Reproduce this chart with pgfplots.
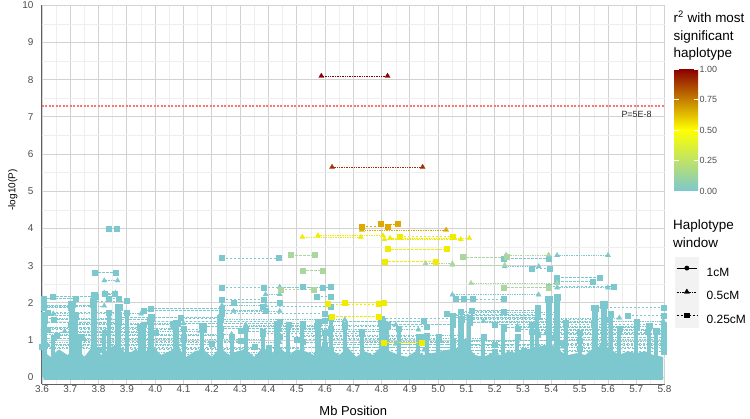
\documentclass[border=0pt]{standalone}
\usepackage{pgfplots}
\pgfplotsset{compat=1.18}
\usepackage{fontspec}
\setmainfont{Liberation Sans}
\definecolor{teal1}{RGB}{125,199,206}
\definecolor{grn}{RGB}{172,214,160}
\definecolor{ylw}{RGB}{240,236,0}
\definecolor{org}{RGB}{222,168,0}
\definecolor{redA}{RGB}{139,0,0}
\definecolor{redB}{RGB}{165,45,5}
\definecolor{gmaj}{RGB}{210,210,210}
\definecolor{gmin}{RGB}{238,238,238}
\definecolor{axc}{RGB}{95,95,95}
\definecolor{tickc}{RGB}{77,77,77}
\definecolor{keybg}{RGB}{242,242,242}
\pgfplotsset{
 sq/.style={forget plot, line width=0.5bp, dash pattern=on 2.5bp off 1.5bp, mark=square*, mark size=2.5bp, mark options={solid, line width=0.2bp}, unbounded coords=jump},
 tri/.style={forget plot, line width=0.5bp, dash pattern=on 0.8bp off 0.9bp, mark=triangle*, mark size=3bp, mark options={solid, line width=0.2bp}, unbounded coords=jump},
}
\begin{document}
\begin{tikzpicture}
\path[use as bounding box] (-42bp,-35bp) rectangle (708bp,384bp);
\begin{axis}[
 scale only axis, width=622.6bp, height=378.7bp,
 xmin=3.6, xmax=5.8, ymin=-0.18, ymax=10,
 xtick={3.6,3.7,3.8,3.9,4.0,4.1,4.2,4.3,4.4,4.5,4.6,4.7,4.8,4.9,5.0,5.1,5.2,5.3,5.4,5.5,5.6,5.7,5.8},
 xticklabels={3.6,3.7,3.8,3.9,4.0,4.1,4.2,4.3,4.4,4.5,4.6,4.7,4.8,4.9,5.0,5.1,5.2,5.3,5.4,5.5,5.6,5.7,5.8},
 ytick={0,1,2,3,4,5,6,7,8,9,10},
 yticklabels={0,1,2,3,4,5,6,7,8,9,10},
 minor x tick num=1, minor y tick num=1,
 grid=both, major grid style={gmaj, line width=0.9bp}, minor grid style={gmin, line width=0.5bp},
 axis x line*=bottom, axis y line*=left,
 axis line style={axc, line width=1bp, -},
 tick style={draw=none},
 xticklabel style={font=\fontsize{10}{12}\selectfont, text=tickc, inner sep=1.5bp},
 yticklabel style={font=\fontsize{10}{12}\selectfont, text=tickc, xshift=-5bp},
 xlabel={Mb Position},
 xlabel style={font=\fontsize{13}{15}\selectfont, at={(axis description cs:0.5,-0.0837)}, anchor=base},
 ylabel={-log10(P)},
 ylabel style={font=\fontsize{10}{12}\selectfont, at={(axis description cs:-0.047,0.512)}, anchor=center},
 colormap={r2}{rgb255=(125,199,206) rgb255=(255,255,0) rgb255=(139,0,0)},
 point meta min=0, point meta max=1,
 colorbar right,
 colorbar/width=24bp,
 colorbar style={
   at={(parent axis.south west)}, anchor=south west, xshift=623.5bp, yshift=193bp,
   scale only axis, width=24bp, height=122bp,
   ytick={0,0.25,0.5,0.75,1}, yticklabels={0.00,0.25,0.50,0.75,1.00},
   yticklabel pos=right, ytick pos=both, tick align=inside,
   major tick length=4.5bp, tick style={white, line width=0.7bp},
   axis line style={draw=none}, grid=none,
   yticklabel style={font=\fontsize{9}{10}\selectfont, text=tickc, inner sep=1.5bp},
 },
 legend style={at={(1.0167,0.3362)}, anchor=north west, draw=none, fill=none, inner sep=0pt, outer sep=0pt, row sep=0.8bp,
   font=\fontsize{12}{14}\selectfont, nodes={inner sep=0pt}, /tikz/every odd column/.append style={column sep=8bp}},
 legend cell align=left,
]
% threshold (drawn first, under the data)
\addplot[forget plot, draw=red!55, line width=1.6bp, dash pattern=on 2bp off 1.5bp, mark=none] table[row sep=\\]{
x y\\ 3.6 7.3\\ 5.8 7.3\\};
% solid base band
\addplot[forget plot, fill=teal1, draw=none] coordinates {
(3.605,-0.07) (3.605,0.7) (3.63,0.55) (3.66,0.75) (3.69,0.6) (3.72,0.8) (3.75,0.55) (3.78,0.85) (3.81,0.6) (3.84,0.8) (3.87,0.9) (3.9,0.6) (3.93,0.75) (3.96,0.65) (3.99,0.85) (4.02,0.6) (4.05,0.7) (4.08,0.8) (4.11,0.55) (4.14,0.7) (4.17,0.75) (4.2,0.55) (4.23,0.8) (4.26,0.6) (4.29,0.7) (4.32,0.75) (4.35,0.55) (4.38,0.8) (4.41,0.65) (4.44,0.8) (4.47,0.6) (4.5,0.75) (4.53,0.7) (4.56,0.6) (4.59,0.85) (4.62,0.75) (4.65,0.6) (4.68,0.8) (4.71,0.55) (4.74,0.7) (4.77,0.6) (4.8,0.85) (4.83,0.7) (4.86,0.6) (4.89,0.55) (4.92,0.7) (4.95,0.6) (4.98,0.65) (5.01,0.7) (5.04,0.75) (5.07,0.8) (5.1,0.85) (5.13,0.6) (5.16,0.55) (5.19,0.65) (5.22,0.6) (5.25,0.7) (5.28,0.65) (5.31,0.75) (5.34,0.8) (5.37,0.85) (5.4,0.9) (5.43,0.7) (5.46,0.6) (5.49,0.65) (5.52,0.6) (5.55,0.8) (5.58,0.85) (5.61,0.75) (5.64,0.6) (5.67,0.7) (5.7,0.65) (5.73,0.7) (5.76,0.6) (5.795,0.55) (5.795,-0.07)};
% dense columns (wide)
\addplot[forget plot, ycomb, teal1, line width=6bp, mark=square*, mark size=3.2bp, mark options={line width=0.2bp}] table[row sep=\\]{
x y\\ 3.608 1.55\\ 3.705 1.96\\ 3.785 2.2\\ 3.87 1.88\\ 3.985 1.6\\ 4.075 1.45\\ 4.23 1.58\\ 4.43 1.42\\ 4.575 1.47\\ 4.8 1.5\\ 5.08 1.57\\ 5.39 2.1\\ 5.42 2.16\\ 5.555 1.86\\ 5.585 1.95\\};
% dense columns (narrow)
\addplot[forget plot, ycomb, teal1, line width=4bp, mark=square*, mark size=2.6bp, mark options={line width=0.2bp}] table[row sep=\\]{
x y\\ 3.64 1.07\\ 3.72 1.63\\ 3.735 1.1\\ 3.82 1.2\\ 3.835 1.73\\ 3.9 1.73\\ 3.945 1.35\\ 3.96 1.42\\ 4.1 1.3\\ 4.165 1.4\\ 4.27 1.1\\ 4.32 1.3\\ 4.38 1.23\\ 4.47 1.42\\ 4.52 1.38\\ 4.6 1.2\\ 4.62 1.6\\ 4.67 1.42\\ 4.73 1.23\\ 4.82 1.4\\ 4.86 1.3\\ 4.93 1.1\\ 4.96 1.12\\ 5.0 1.1\\ 5.05 1.42\\ 5.11 1.6\\ 5.16 1.1\\ 5.23 1.3\\ 5.28 1.1\\ 5.33 1.42\\ 5.35 1.86\\ 5.45 1.48\\ 5.5 1.2\\ 5.61 1.7\\ 5.64 1.3\\ 5.7 1.5\\ 5.745 1.4\\ 5.77 1.25\\};
% teal 0.25cM haplotypes
\addplot[sq, teal1] table[row sep=\\]{
x y\\
3.835 4.00\\ 3.865 4.00\\ nan nan\\
3.785 2.82\\ 3.86 2.82\\ nan nan\\
3.637 2.18\\ 3.79 2.18\\ nan nan\\
3.605 2.12\\ 3.718 2.12\\ nan nan\\
3.835 2.12\\ 3.87 2.12\\ nan nan\\
3.78 2.05\\ 3.90 2.05\\ nan nan\\
3.82 2.24\\ 3.855 2.24\\ nan nan\\
3.958 1.80\\ 4.39 1.80\\ nan nan\\
3.983 1.86\\ 4.236 1.86\\ nan nan\\
4.236 3.21\\ 4.436 3.21\\ nan nan\\
4.236 2.41\\ 4.383 2.41\\ nan nan\\
4.236 2.09\\ 4.383 2.09\\ nan nan\\
4.277 2.02\\ 4.44 2.02\\ nan nan\\
4.383 2.41\\ 4.59 2.41\\ nan nan\\
4.522 2.43\\ 4.62 2.43\\ nan nan\\
4.57 2.18\\ 4.62 2.18\\ nan nan\\
4.09 1.60\\ 4.23 1.60\\ nan nan\\
5.33 2.93\\ 5.395 2.93\\ nan nan\\
5.42 2.68\\ 5.57 2.68\\ nan nan\\
5.42 2.58\\ 5.545 2.58\\ nan nan\\
5.39 2.45\\ 5.62 2.45\\ nan nan\\
5.06 2.11\\ 5.12 2.11\\ nan nan\\
5.09 2.11\\ 5.23 2.11\\ nan nan\\
5.23 3.20\\ 5.39 3.20\\ nan nan\\
5.05 1.66\\ 5.35 1.66\\ nan nan\\
5.08 1.77\\ 5.23 1.77\\ nan nan\\
5.117 1.80\\ 5.35 1.80\\ nan nan\\
5.55 1.87\\ 5.795 1.87\\ nan nan\\
5.67 1.66\\ 5.795 1.66\\ nan nan\\
3.605 1.95\\ 3.78 1.95\\ nan nan\\
3.605 1.88\\ 3.70 1.88\\ nan nan\\
3.62 1.75\\ 3.90 1.75\\ nan nan\\
3.605 1.68\\ 3.72 1.68\\ nan nan\\
3.64 1.55\\ 3.98 1.55\\ nan nan\\
3.605 1.48\\ 3.87 1.48\\ nan nan\\
3.70 1.42\\ 4.07 1.42\\ nan nan\\
3.605 1.35\\ 3.95 1.35\\ nan nan\\
3.62 1.28\\ 4.17 1.28\\ nan nan\\
3.605 1.20\\ 4.00 1.20\\ nan nan\\
3.65 1.12\\ 4.23 1.12\\ nan nan\\
3.605 1.05\\ 4.10 1.05\\ nan nan\\
3.72 0.98\\ 4.30 0.98\\ nan nan\\
3.605 0.90\\ 4.20 0.90\\ nan nan\\
3.60 0.82\\ 4.35 0.82\\ nan nan\\
3.80 0.75\\ 4.40 0.75\\ nan nan\\
3.90 0.62\\ 4.50 0.62\\ nan nan\\
3.87 1.62\\ 4.23 1.62\\ nan nan\\
3.98 1.50\\ 4.44 1.50\\ nan nan\\
4.06 1.45\\ 4.52 1.45\\ nan nan\\
4.17 1.38\\ 4.57 1.38\\ nan nan\\
4.23 1.32\\ 4.62 1.32\\ nan nan\\
4.30 1.25\\ 4.80 1.25\\ nan nan\\
4.38 1.18\\ 4.73 1.18\\ nan nan\\
4.44 1.10\\ 4.95 1.10\\ nan nan\\
4.50 1.02\\ 5.00 1.02\\ nan nan\\
4.52 0.95\\ 5.10 0.95\\ nan nan\\
4.60 0.88\\ 5.20 0.88\\ nan nan\\
4.40 0.80\\ 5.05 0.80\\ nan nan\\
4.62 0.72\\ 5.30 0.72\\ nan nan\\
4.50 0.65\\ 5.40 0.65\\ nan nan\\
4.236 1.72\\ 4.60 1.72\\ nan nan\\
4.38 1.90\\ 4.62 1.90\\ nan nan\\
4.80 1.58\\ 5.05 1.58\\ nan nan\\
4.60 1.52\\ 4.95 1.52\\ nan nan\\
4.82 1.42\\ 5.05 1.42\\ nan nan\\
4.67 1.36\\ 4.96 1.36\\ nan nan\\
5.03 1.70\\ 5.42 1.70\\ nan nan\\
5.05 1.62\\ 5.35 1.62\\ nan nan\\
5.08 1.55\\ 5.60 1.55\\ nan nan\\
5.11 1.48\\ 5.55 1.48\\ nan nan\\
5.20 1.42\\ 5.795 1.42\\ nan nan\\
5.23 1.35\\ 5.70 1.35\\ nan nan\\
5.28 1.30\\ 5.795 1.30\\ nan nan\\
5.33 1.22\\ 5.74 1.22\\ nan nan\\
5.35 1.15\\ 5.795 1.15\\ nan nan\\
5.40 1.08\\ 5.795 1.08\\ nan nan\\
5.05 1.00\\ 5.50 1.00\\ nan nan\\
5.44 0.92\\ 5.795 0.92\\ nan nan\\
5.10 0.85\\ 5.795 0.85\\ nan nan\\
5.50 0.78\\ 5.795 0.78\\ nan nan\\
5.20 0.70\\ 5.795 0.70\\ nan nan\\
};
% teal 0.5cM haplotypes
\addplot[tri, teal1] table[row sep=\\]{
x y\\
3.82 2.60\\ 3.867 2.60\\ nan nan\\
3.82 2.27\\ 3.86 2.27\\ nan nan\\
4.236 1.93\\ 4.39 1.93\\ nan nan\\
4.277 1.78\\ 4.44 1.78\\ nan nan\\
4.39 2.23\\ 4.44 2.23\\ nan nan\\
4.44 2.43\\ 4.622 2.43\\ nan nan\\
5.42 3.28\\ 5.60 3.28\\ nan nan\\
5.235 2.98\\ 5.355 2.98\\ nan nan\\
5.05 2.22\\ 5.355 2.22\\ nan nan\\
5.42 2.41\\ 5.60 2.41\\ nan nan\\
3.605 1.92\\ 3.82 1.92\\ nan nan\\
3.64 1.71\\ 3.95 1.71\\ nan nan\\
3.605 1.58\\ 3.84 1.58\\ nan nan\\
3.70 1.45\\ 4.10 1.45\\ nan nan\\
3.605 1.32\\ 4.06 1.32\\ nan nan\\
3.68 1.24\\ 4.16 1.24\\ nan nan\\
3.605 1.16\\ 4.27 1.16\\ nan nan\\
3.75 1.02\\ 4.38 1.02\\ nan nan\\
3.605 0.94\\ 4.44 0.94\\ nan nan\\
3.62 0.86\\ 4.10 0.86\\ nan nan\\
3.605 0.78\\ 4.52 0.78\\ nan nan\\
3.90 0.68\\ 4.60 0.68\\ nan nan\\
4.23 1.55\\ 4.67 1.55\\ nan nan\\
4.32 1.41\\ 4.85 1.41\\ nan nan\\
4.44 1.28\\ 4.93 1.28\\ nan nan\\
4.52 1.14\\ 5.08 1.14\\ nan nan\\
4.62 1.06\\ 5.16 1.06\\ nan nan\\
4.73 0.98\\ 5.28 0.98\\ nan nan\\
4.85 0.90\\ 5.35 0.90\\ nan nan\\
4.67 0.82\\ 5.44 0.82\\ nan nan\\
4.95 0.74\\ 5.60 0.74\\ nan nan\\
5.08 1.74\\ 5.42 1.74\\ nan nan\\
5.11 1.60\\ 5.64 1.60\\ nan nan\\
5.16 1.51\\ 5.795 1.51\\ nan nan\\
5.28 1.38\\ 5.75 1.38\\ nan nan\\
5.35 1.26\\ 5.795 1.26\\ nan nan\\
5.38 1.18\\ 5.795 1.18\\ nan nan\\
5.45 1.02\\ 5.795 1.02\\ nan nan\\
5.55 0.96\\ 5.795 0.96\\ nan nan\\
5.23 0.88\\ 5.795 0.88\\ nan nan\\
5.42 0.80\\ 5.795 0.80\\ nan nan\\
};
% green (low r2)
\addplot[sq, grn] table[row sep=\\]{
x y\\
4.48 3.29\\ 4.565 3.29\\ nan nan\\
4.52 2.88\\ 4.59 2.88\\ nan nan\\
4.444 2.36\\ 4.56 2.36\\ nan nan\\
5.085 3.24\\ 5.24 3.24\\ nan nan\\
5.23 2.41\\ 5.39 2.41\\ nan nan\\
};
\addplot[tri, grn] table[row sep=\\]{
x y\\
5.05 3.02\\ 5.235 3.02\\ nan nan\\
4.955 3.06\\ 5.05 3.06\\ nan nan\\
5.116 2.53\\ 5.42 2.53\\ nan nan\\
5.24 3.29\\ 5.39 3.29\\ nan nan\\
};
% yellow (r2 ~ 0.5)
\addplot[sq, ylw] table[row sep=\\]{
x y\\
4.864 3.78\\ 5.05 3.78\\ nan nan\\
4.82 3.45\\ 5.03 3.45\\ nan nan\\
4.81 3.12\\ 4.99 3.12\\ nan nan\\
4.61 1.97\\ 4.79 1.97\\ nan nan\\
4.67 2.01\\ 4.806 2.01\\ nan nan\\
4.625 1.64\\ 4.79 1.64\\ nan nan\\
4.806 0.94\\ 4.94 0.94\\ nan nan\\
};
\addplot[tri, ylw] table[row sep=\\]{
x y\\
4.52 3.77\\ 4.727 3.77\\ nan nan\\
4.575 3.81\\ 4.805 3.81\\ nan nan\\
4.81 3.71\\ 5.08 3.71\\ nan nan\\
4.83 3.74\\ 5.11 3.74\\ nan nan\\
};
% orange
\addplot[sq, org] table[row sep=\\]{
x y\\
4.798 4.12\\ 4.855 4.12\\ nan nan\\
4.73 4.05\\ 4.822 4.05\\ nan nan\\
};
\addplot[tri, org] table[row sep=\\]{
x y\\
4.73 3.96\\ 5.028 3.96\\ nan nan\\
};
% red (most significant)
\addplot[tri, redB] table[row sep=\\]{
x y\\ 4.625 5.65\\ 4.945 5.65\\};
\addplot[tri, redA] table[row sep=\\]{
x y\\ 4.587 8.10\\ 4.821 8.10\\};
\node[font=\fontsize{9}{10}\selectfont, text=black!85] at (axis cs:5.701,7.07) {P=5E-8};
% legend
\addlegendimage{legend image code/.code={\fill[keybg] (0bp,-6.7bp) rectangle (23.3bp,15.8bp); \draw[black,line width=0.5bp] (1.5bp,4.6bp) -- (21.8bp,4.6bp); \fill[black] (11.65bp,4.6bp) circle (2.2bp);}}
\addlegendentry{1cM}
\addlegendimage{legend image code/.code={\fill[keybg] (0bp,-6.7bp) rectangle (23.3bp,15.8bp); \draw[black,line width=0.5bp,dash pattern=on 0.8bp off 0.9bp] (1.5bp,4.6bp) -- (21.8bp,4.6bp); \fill[black] (11.65bp,7.4bp) -- (9.05bp,3.1bp) -- (14.25bp,3.1bp) -- cycle;}}
\addlegendentry{0.5cM}
\addlegendimage{legend image code/.code={\fill[keybg] (0bp,-6.7bp) rectangle (23.3bp,15.8bp); \draw[black,line width=0.5bp,dash pattern=on 2.5bp off 1.5bp] (1.5bp,4.6bp) -- (21.8bp,4.6bp); \fill[black] (9.45bp,2.4bp) rectangle (13.85bp,6.8bp);}}
\addlegendentry{0.25cM}
\end{axis}
\begin{scope}[every node/.style={inner sep=0pt, anchor=base west, font=\fontsize{13.5}{16}\selectfont}]
\node at (631.5bp,361.7bp) {r\textsuperscript{2} with most};
\node at (631.5bp,343.3bp) {significant};
\node at (631.5bp,326.7bp) {haplotype};
\node at (631bp,154.4bp) {Haplotype};
\node at (631bp,136.7bp) {window};
\end{scope}
\end{tikzpicture}
\end{document}
